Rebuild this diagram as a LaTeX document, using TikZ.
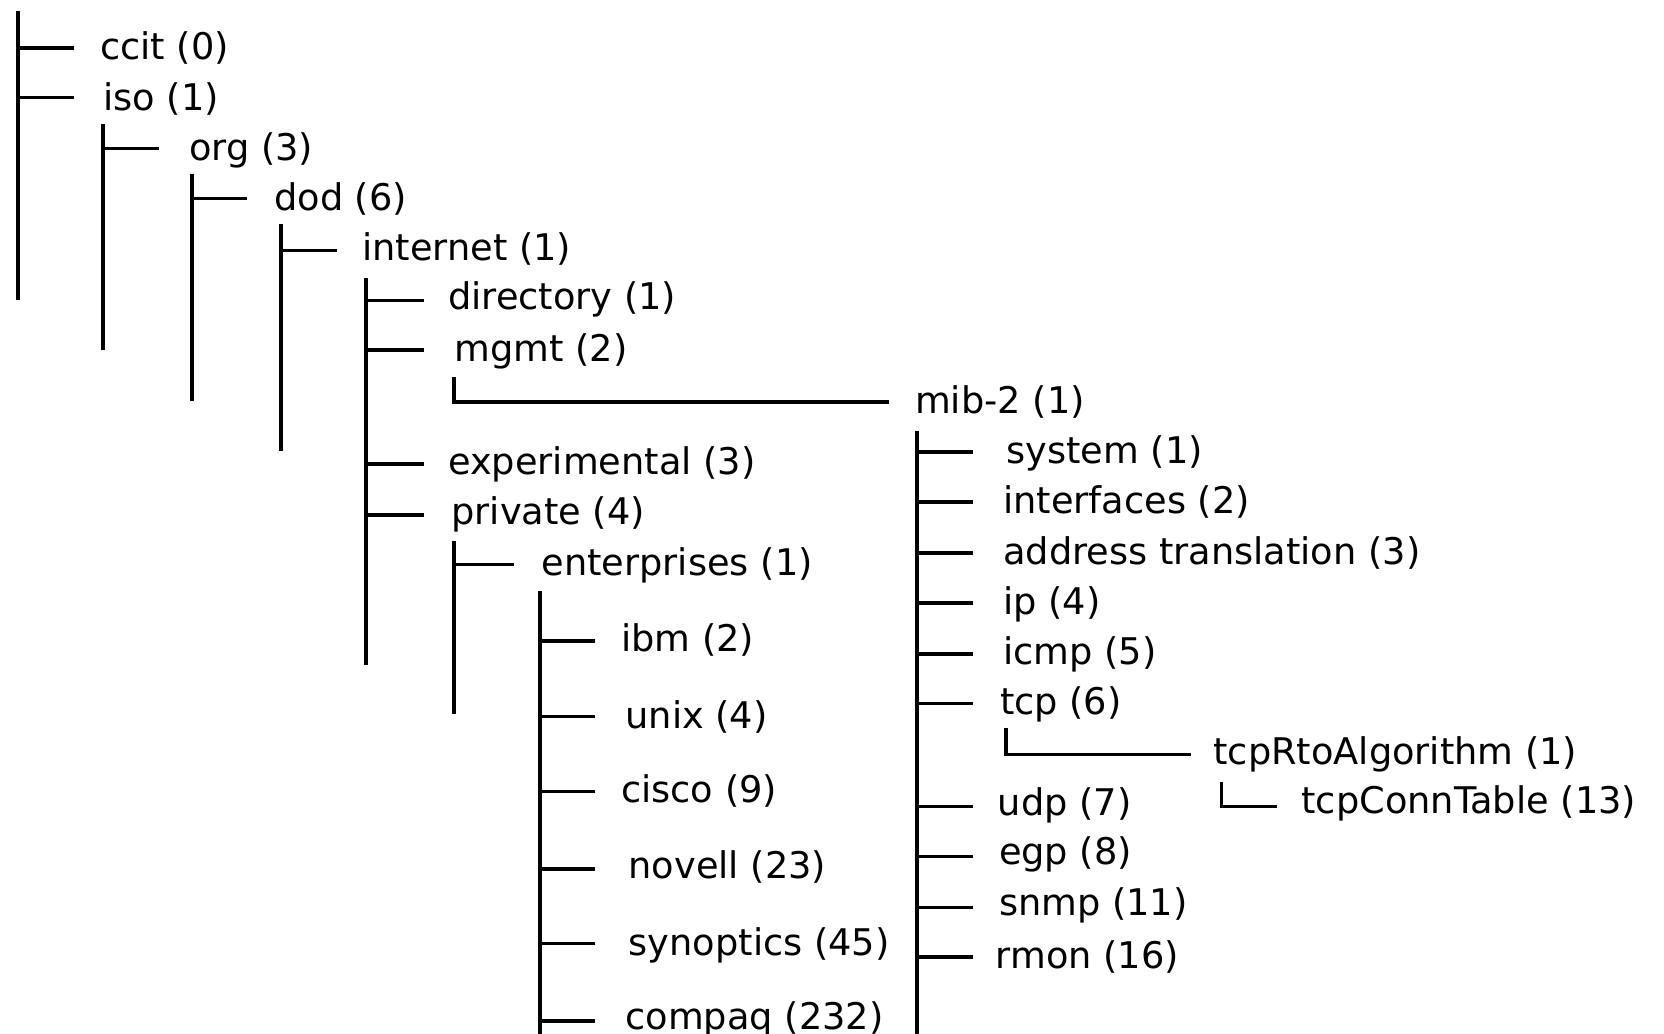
\documentclass[tikz,border=0pt]{standalone}
\usepackage{fontspec}
\setmainfont{DejaVu Sans}
\begin{document}
\begin{tikzpicture}[x=0.5pt,y=-0.5pt,
  tree/.style={line width=1.7pt, black},
  lbl/.style={anchor=base west, inner sep=0pt, yshift=-1.5pt, font=\fontsize{17.3}{20}\selectfont}]
\useasboundingbox (0,0) rectangle (1568,974);
% trunks
\draw[tree] (17,10) -- (17,283);
\draw[tree] (97,117) -- (97,330);
\draw[tree] (181,164) -- (181,378);
\draw[tree] (265,211) -- (265,425);
\draw[tree] (345,262) -- (345,627);
\draw[tree] (428,510) -- (428,673);
\draw[tree] (509,557) -- (509,974);
\draw[tree] (864,406) -- (864,974);
% labels
\node[lbl] (ccit) at (94,53) {ccit (0)};
\node[lbl] (iso) at (97,101) {iso (1)};
\node[lbl] (org) at (178,148) {org (3)};
\node[lbl] (dod) at (258,195) {dod (6)};
\node[lbl] (internet) at (341,242) {internet (1)};
\node[lbl] (directory) at (422,289) {directory (1)};
\node[lbl] (mgmt) at (428,338) {mgmt (2)};
\node[lbl] (mib2) at (862,387) {mib-2 (1)};
\node[lbl] (experimental) at (422,444) {experimental (3)};
\node[lbl] (private) at (425,491) {private (4)};
\node[lbl] (enterprises) at (510,539) {enterprises (1)};
\node[lbl] (ibm) at (585,611) {ibm (2)};
\node[lbl] (unix) at (589,683) {unix (4)};
\node[lbl] (cisco) at (585,753) {cisco (9)};
\node[lbl] (novell) at (592,825) {novell (23)};
\node[lbl] (synoptics) at (592,897) {synoptics (45)};
\node[lbl] (compaq) at (589,967) {compaq (232)};
\node[lbl] (system) at (948,434) {system (1)};
\node[lbl] (interfaces) at (945,481) {interfaces (2)};
\node[lbl] (addr) at (945,529) {address translation (3)};
\node[lbl] (ip) at (945,576) {ip (4)};
\node[lbl] (icmp) at (945,623) {icmp (5)};
\node[lbl] (tcp) at (942,670) {tcp (6)};
\node[lbl] (tcprto) at (1143,717) {tcpRtoAlgorithm (1)};
\node[lbl] (udp) at (940,765) {udp (7)};
\node[lbl] (tcpconn) at (1226,764) {tcpConnTable (13)};
\node[lbl] (egp) at (941,812) {egp (8)};
\node[lbl] (snmp) at (941,860) {snmp (11)};
\node[lbl] (rmon) at (938,910) {rmon (16)};
% branches
\draw[tree] (17,45) -- (70,45);
\draw[tree] (17,92) -- (70,92);
\draw[tree] (97,140) -- (150,140);
\draw[tree] (181,187) -- (233,187);
\draw[tree] (265,236) -- (318,236);
\foreach \y in {283,330,437,485} \draw[tree] (345,\y) -- (400,\y);
\draw[tree] (428,532) -- (484,532);
\foreach \y in {604,675,746,819,889,962} \draw[tree] (509,\y) -- (561,\y);
\foreach \y in {426,473,521,568,616,663,760,807,855,902} \draw[tree] (864,\y) -- (917,\y);
% elbows
\draw[tree] (428,355) -- (428,379) -- (838,379);
\draw[tree] (948,686) -- (948,711) -- (1122,711);
\draw[tree] (1151,737) -- (1151,760) -- (1203,760);
\end{tikzpicture}
\end{document}
